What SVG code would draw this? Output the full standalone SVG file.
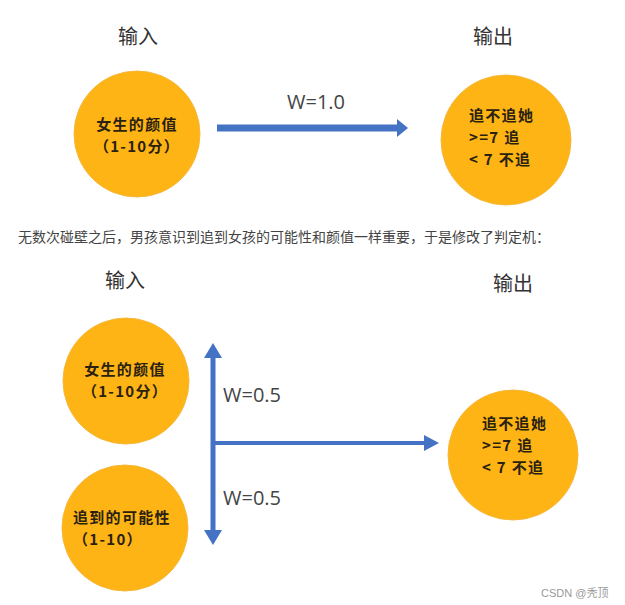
<svg xmlns="http://www.w3.org/2000/svg" width="625" height="605" viewBox="0 0 625 605">
<style>
.node{fill:#FDB414;stroke:#F6B73A;stroke-width:1}
.ct{font-family:"Noto Sans CJK SC","Noto Sans",sans-serif;font-weight:700;font-size:15px;letter-spacing:1.3px;fill:#2a2110}
.hd{font-family:"Noto Sans CJK SC",sans-serif;font-size:20px;fill:#333}
.w{font-family:"Open Sans","Liberation Sans",sans-serif;font-size:20px;fill:#444}
.ln{stroke:#4472C4;fill:none}
.hdA{fill:#4472C4}
</style>
<rect width="625" height="605" fill="#ffffff"/>
<text class="hd" x="138" y="44" text-anchor="middle">输入</text>
<text class="hd" x="493" y="44" text-anchor="middle">输出</text>
<text class="hd" x="125" y="288" text-anchor="middle">输入</text>
<text class="hd" x="513" y="291" text-anchor="middle">输出</text>
<text x="18" y="242" font-family="Noto Sans CJK SC,sans-serif" font-size="14px" fill="#444">无数次碰壁之后，男孩意识到追到女孩的可能性和颜值一样重要，于是修改了判定机：</text>

<g id="n-top-in">
<circle class="node" cx="137" cy="134" r="63"/>
<text class="ct" x="137" y="130" text-anchor="middle">女生的颜值</text>
<text class="ct" x="137" y="152" text-anchor="middle">（1-10分）</text>
</g>
<g id="n-top-out">
<circle class="node" cx="506" cy="140" r="65"/>
<text class="ct" x="469" y="121">追不追她</text>
<text class="ct" x="469" y="143">&gt;=7 追</text>
<text class="ct" x="469" y="165">&lt; 7 不追</text>
</g>
<g id="n-bot-in1">
<circle class="node" cx="126" cy="381" r="63"/>
<text class="ct" x="125" y="375" text-anchor="middle">女生的颜值</text>
<text class="ct" x="125" y="397" text-anchor="middle">（1-10分）</text>
</g>
<g id="n-bot-in2">
<circle class="node" cx="125" cy="528" r="63"/>
<text class="ct" x="73" y="523">追到的可能性</text>
<text class="ct" x="73" y="545">（1-10）</text>
</g>
<g id="n-bot-out">
<circle class="node" cx="513" cy="455" r="65"/>
<text class="ct" x="482" y="429">追不追她</text>
<text class="ct" x="482" y="451">&gt;=7 追</text>
<text class="ct" x="482" y="473">&lt; 7 不追</text>
</g>

<g id="connectors">
<line class="ln" x1="217" y1="128" x2="398" y2="128" stroke-width="7"/>
<polygon class="hdA" points="397,119 408,128 397,137"/>
<line class="ln" x1="213" y1="355" x2="213" y2="532" stroke-width="5"/>
<polygon class="hdA" points="204,358 213,343 222,358"/>
<polygon class="hdA" points="204,530 213,545 222,530"/>
<line class="ln" x1="213" y1="443" x2="426" y2="443" stroke-width="4"/>
<polygon class="hdA" points="424,435 439,443 424,451"/>
<text class="w" x="287" y="109">W=1.0</text>
<text class="w" x="223" y="402">W=0.5</text>
<text class="w" x="223" y="505">W=0.5</text>
</g>
<text x="541" y="597" font-family="Liberation Sans,Noto Sans CJK SC,sans-serif" font-size="11px" fill="#999">CSDN @秃顶</text>
</svg>
